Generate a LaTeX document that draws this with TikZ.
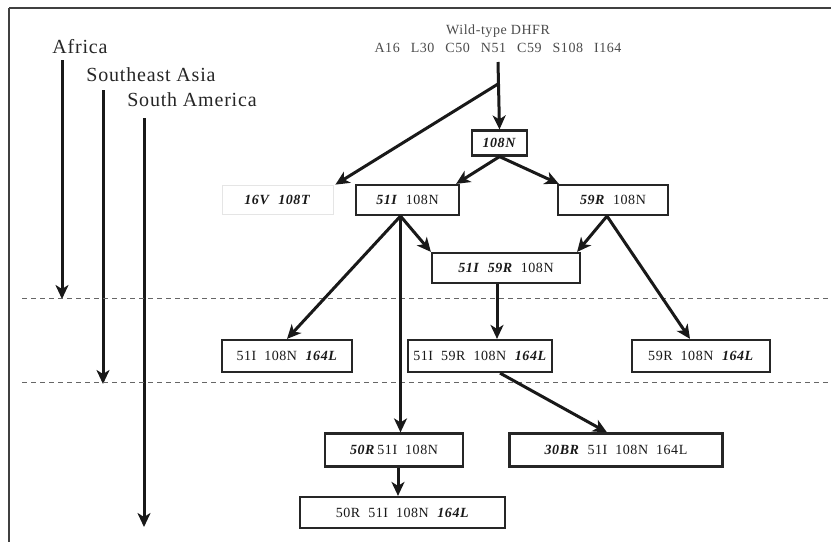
\documentclass[tikz,border=0pt]{standalone}
\usepackage{fontspec}
\setmainfont{Liberation Serif}
\newfontfamily\widefont[LetterSpace=4]{Liberation Serif}
\usetikzlibrary{arrows.meta}
\newcommand{\mut}[1]{\textbf{\textit{#1}}}
\newcommand{\gp}{\hspace{8pt}}
\newcommand{\wgp}{\hspace{11pt}}
\begin{document}
\begin{tikzpicture}[x=1pt,y=-1pt,
  box/.style={draw=black!85,line width=2.2pt,inner sep=2pt,minimum height=30pt,font=\widefont\fontsize{14}{16}\selectfont,text=black!90},
  faintbox/.style={draw=black!10,line width=0.8pt,inner sep=2pt,minimum height=29pt,font=\widefont\fontsize{14}{16}\selectfont,text=black!90},
  arr/.style={line width=3pt,draw=black!90,-{Stealth[length=14pt,width=13pt,inset=4pt]}},
  region/.style={font=\widefont\fontsize{20}{22}\selectfont,text=black!85,inner sep=0pt},
  sep/.style={draw=black!60,line width=0.9pt,dash pattern=on 5pt off 4pt}]
\useasboundingbox (0,0) rectangle (833,544);
\fill[white] (0,0) rectangle (833,544);
\draw[black!75,line width=1.8pt] (9,8) -- (831,8);
\draw[black!75,line width=1.8pt] (9,8) -- (9,542);
% regions
\node[region] (af) at (80,47) {Africa};
\node[region] (sea) at (151,75) {Southeast Asia};
\node[region] (sam) at (192,100) {South America};
\coordinate (afs) at (62,60);
\coordinate (afe) at (62,299);
\coordinate (seas) at (103,90);
\coordinate (seae) at (103,384);
\coordinate (sams) at (144,118);
\coordinate (same) at (144,527);
\draw[arr] (afs) -- (afe);
\draw[arr] (seas) -- (seae);
\draw[arr] (sams) -- (same);
% separators
\coordinate (s1a) at (22,298); \coordinate (s1b) at (828,298);
\coordinate (s2a) at (22,382); \coordinate (s2b) at (828,382);
\draw[sep] (s1a) -- (s1b);
\draw[sep] (s2a) -- (s2b);
% wild type
\node[align=center,inner sep=0pt,text=black!70,font=\widefont\fontsize{14}{18}\selectfont] (wt) at (498,39)
  {Wild-type DHFR\\A16\wgp L30\wgp C50\wgp N51\wgp C59\wgp S108\wgp I164};
\coordinate (wtt) at (498,62);
\coordinate (wtj) at (498,84);
% nodes
\node[box,minimum width=55pt,minimum height=25pt] (n108) at (499.5,143) {\mut{108N}};
\node[faintbox,minimum width=111pt] (n16) at (277.5,199.5) {\mut{16V}\gp\mut{108T}};
\node[box,minimum width=103pt] (n51) at (407.5,200) {\mut{51I}\gp 108N};
\node[box,minimum width=110pt] (n59) at (613,200) {\mut{59R}\gp 108N};
\node[box,minimum width=148pt] (n5159) at (506,268) {\mut{51I}\gp\mut{59R}\gp 108N};
\node[box,minimum width=130pt,minimum height=32pt] (r1) at (287,356) {51I\gp 108N\gp\mut{164L}};
\node[box,minimum width=144pt,minimum height=32pt] (r2) at (480,356) {51I\gp 59R\gp 108N\gp\mut{164L}};
\node[box,minimum width=138pt,minimum height=32pt] (r3) at (701,356) {59R\gp 108N\gp\mut{164L}};
\node[box,minimum width=138pt,minimum height=33pt] (b50) at (394,450) {\mut{50R}\,51I\gp 108N};
\node[box,minimum width=213pt,minimum height=33pt] (b30) at (616,450) {\mut{30BR}\gp 51I\gp 108N\gp 164L};
\node[box,minimum width=205pt,minimum height=31pt] (bot) at (402.5,512.5) {50R\gp 51I\gp 108N\gp\mut{164L}};
% connectors
\draw[arr] (wtt) -- (n108.north);
\draw[arr] (wtj) -- ([xshift=2pt]n16.north east);
\draw[arr] (n108.south) -- ([xshift=-4pt]n51.north east);
\draw[arr] (n108.south) -- ([xshift=2pt]n59.north west);
\draw[arr] ([xshift=-7pt]n51.south) -- (r1.north);
\draw[arr] ([xshift=-7pt]n51.south) -- (n5159.north west);
\draw[arr] ([xshift=-7pt]n51.south) -- ([xshift=-7pt]b50.north -| n51.south);
\draw[arr] ([xshift=-6pt]n59.south) -- ([xshift=-4pt]n5159.north east);
\draw[arr] ([xshift=-6pt]n59.south) -- ([xshift=-11pt]r3.north);
\draw[arr] ([xshift=-9pt]n5159.south) -- ([xshift=-9pt]n5159.south |- r2.north);
\draw[arr] ([xshift=20pt]r2.south) -- ([xshift=-9pt]b30.north);
\draw[arr] ([xshift=4pt]b50.south) -- ([xshift=-4.5pt]bot.north);
\end{tikzpicture}
\end{document}
